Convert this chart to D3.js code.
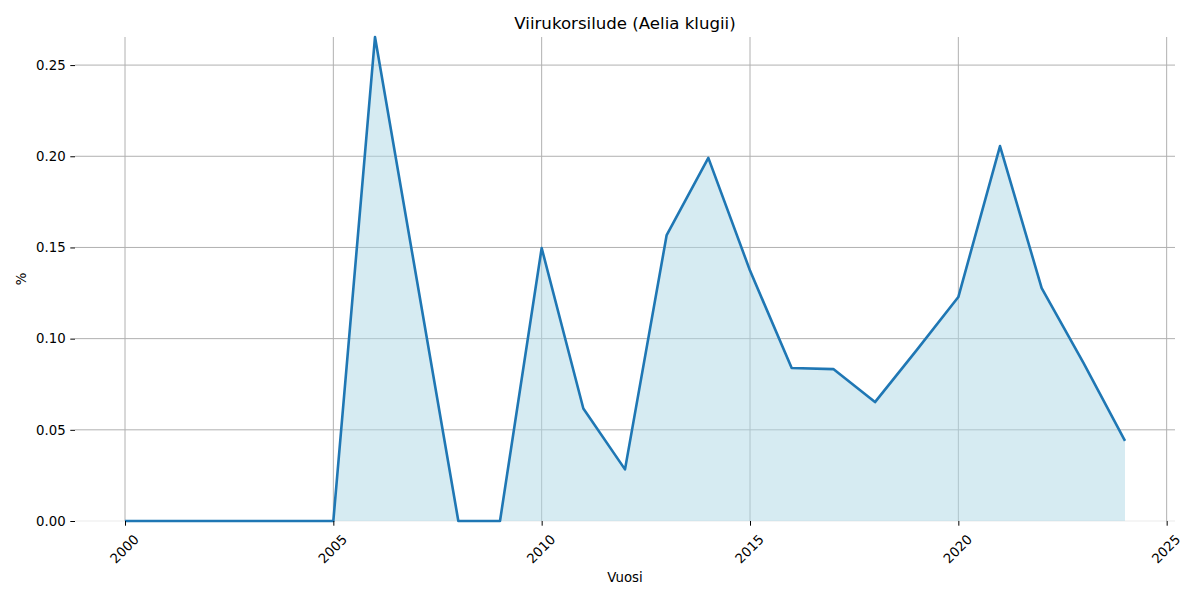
<!DOCTYPE html>
<html>
<head>
<meta charset="utf-8">
<script src="https://cdn.jsdelivr.net/npm/d3@7"></script>
<style>
  body { margin: 0; background: #fff; }
  svg { font-family: "DejaVu Sans", sans-serif; }
</style>
</head>
<body>
<svg id="chart" width="1200" height="600"></svg>
<script>
const years = [2000,2001,2002,2003,2004,2005,2006,2007,2008,2009,2010,2011,2012,2013,2014,2015,2016,2017,2018,2019,2020,2021,2022,2023,2024];
const values = [0,0,0,0,0,0,0.2654,0.1327,0,0,0.1497,0.0617,0.0283,0.1568,0.1991,0.1373,0.0839,0.0833,0.0652,0.0937,0.1228,0.2056,0.1277,0.0868,0.0439];
const xTicks = [2000,2005,2010,2015,2020,2025];
const yTicks = [0,0.05,0.10,0.15,0.20,0.25];
const titleText = "Viirukorsilude (Aelia klugii)";
const xLabel = "Vuosi";
const yLabel = "%";

const data = years.map((y,i)=>({year:y, value:values[i]}));
const svg = d3.select("#chart");
const L = 75, R = 1175, T = 37, B = 521;
const span = d3.max(years) - d3.min(years);
const x = d3.scaleLinear().domain([d3.min(years) - span*0.05, d3.max(years) + span*0.05]).range([L, R]);
const y = d3.scaleLinear().domain([0, d3.max(values)]).range([B, T]);

// grid
const grid = svg.append("g");
grid.selectAll(".vg").data(xTicks).enter().append("line")
  .attr("x1", d=>x(d)).attr("x2", d=>x(d)).attr("y1", T).attr("y2", B)
  .attr("stroke", "#b0b0b0").attr("stroke-width", 1);
grid.selectAll(".hg").data(yTicks).enter().append("line")
  .attr("x1", L).attr("x2", R).attr("y1", d=>y(d)).attr("y2", d=>y(d))
  .attr("stroke", "#b0b0b0").attr("stroke-width", 1)
  .attr("stroke-opacity", d=> d===0 ? 0.25 : 1);

// area
const area = d3.area().x(d=>x(d.year)).y0(y(0)).y1(d=>y(d.value));
svg.append("path").datum(data).attr("d", area).attr("fill", "lightblue").attr("fill-opacity", 0.5);
const line = d3.line().x(d=>x(d.year)).y(d=>y(d.value));
svg.append("path").datum(data).attr("d", line).attr("fill", "none")
  .attr("stroke", "#1f77b4").attr("stroke-width", 2.6).attr("stroke-linejoin", "round");

// y axis
const yAxis = d3.axisLeft(y).tickValues(yTicks).tickFormat(d3.format(".2f")).tickSize(4.7).tickPadding(4.7);
const yg = svg.append("g").attr("transform", `translate(${L},0)`).call(yAxis);
yg.select(".domain").remove();
yg.selectAll("text").attr("font-size", "13.3px").attr("fill", "#000").attr("font-family", "DejaVu Sans");
yg.selectAll("line").attr("stroke", "#000").attr("stroke-width", 1);

// x axis
const xAxis = d3.axisBottom(x).tickValues(xTicks).tickFormat(d3.format("d")).tickSize(4.7);
const xg = svg.append("g").attr("transform", `translate(0,${B})`).call(xAxis);
xg.select(".domain").remove();
xg.selectAll("line").attr("stroke", "#000").attr("stroke-width", 1);
xg.selectAll("text")
  .attr("font-size", "13.3px").attr("fill", "#000").attr("font-family", "DejaVu Sans")
  .attr("text-anchor", "middle").attr("dy", null).attr("y", null)
  .attr("dominant-baseline", "central")
  .attr("transform", "translate(-1,28) rotate(-45)");

// labels
svg.append("text").attr("x", (L+R)/2).attr("y", 29).attr("text-anchor", "middle")
  .attr("font-size", "16.6px").text(titleText);
svg.append("text").attr("x", (L+R)/2).attr("y", 582).attr("text-anchor", "middle")
  .attr("font-size", "13.3px").text(xLabel);
svg.append("text").attr("transform", `translate(26,${(T+B)/2}) rotate(-90)`).attr("text-anchor", "middle")
  .attr("font-size", "13.3px").text(yLabel);
</script>
</body>
</html>
